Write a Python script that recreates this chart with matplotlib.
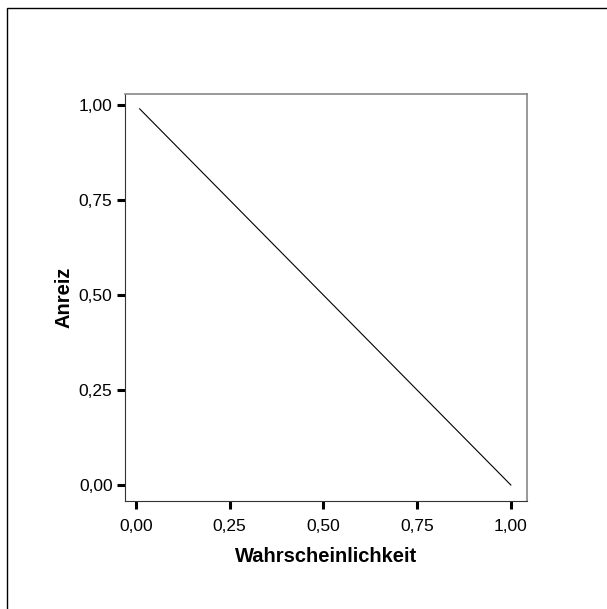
import matplotlib
matplotlib.use("Agg")
import matplotlib.pyplot as plt
from matplotlib.patches import Rectangle

# Data
wahrscheinlichkeit = [0.01, 0.25, 0.50, 0.75, 1.00]
anreiz = [0.99, 0.75, 0.50, 0.25, 0.00]
ticks = [0.00, 0.25, 0.50, 0.75, 1.00]
tick_labels = ["0,00", "0,25", "0,50", "0,75", "1,00"]

plt.rcParams['font.family'] = ['Liberation Sans', 'DejaVu Sans']

fig = plt.figure(figsize=(6.07, 6.09), dpi=100)
# outer frame
fig.patches.append(Rectangle((7/607, -0.1), 1.2, 1 - 8/609 + 0.1, transform=fig.transFigure,
                             fill=False, edgecolor='black', linewidth=1.0))

ax = fig.add_axes([125/607, 1 - 501/609, 402/607, 407/609])
ax.plot(wahrscheinlichkeit, anreiz, color='black', linewidth=0.8)

ax.set_xlim(-0.029, 1.043)
ax.set_ylim(-0.042, 1.029)
ax.set_xticks(ticks)
ax.set_xticklabels(tick_labels, fontsize=12.5)
ax.set_yticks(ticks)
ax.set_yticklabels(tick_labels, fontsize=12.5)
ax.tick_params(axis='both', direction='out', length=6, width=2.2, color='black')
ax.tick_params(axis='y', pad=3)
ax.tick_params(axis='x', pad=7)

for s in ['top', 'right']:
    ax.spines[s].set_color('#888888')
    ax.spines[s].set_linewidth(1.2)
for s in ['left', 'bottom']:
    ax.spines[s].set_color('#333333')
    ax.spines[s].set_linewidth(0.8)

ax.set_xlabel("Wahrscheinlichkeit", fontsize=14.5, fontweight='bold', labelpad=9)
ax.set_ylabel("Anreiz", fontsize=14.5, fontweight='bold', labelpad=4)

fig.savefig("out.png", dpi=100)
